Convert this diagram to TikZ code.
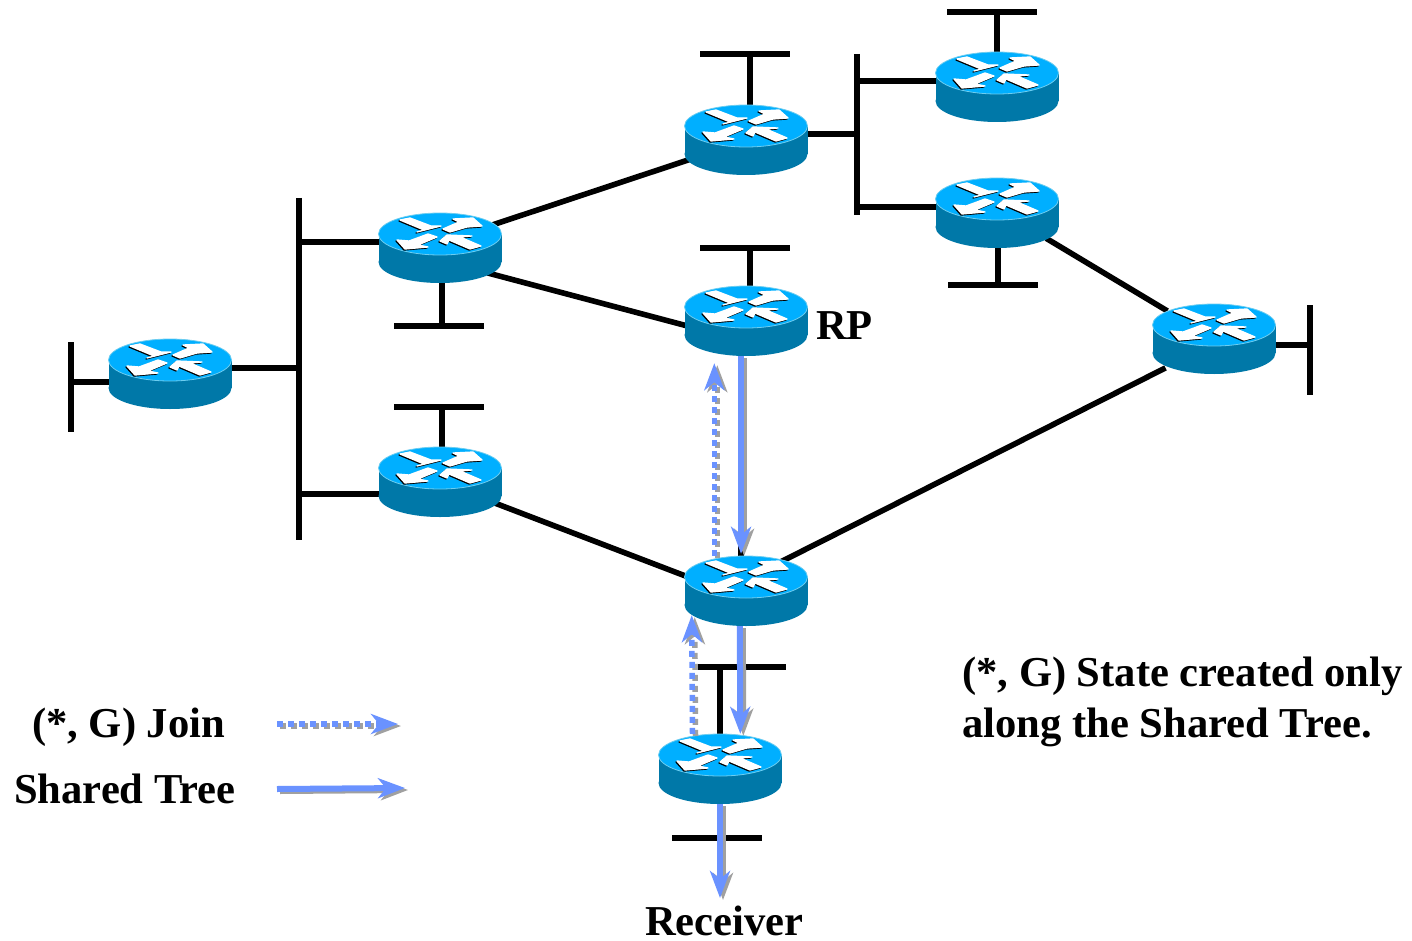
\documentclass[tikz,border=0pt]{standalone}
\usepackage{fontspec}
\setmainfont{Liberation Serif}
\usetikzlibrary{arrows.meta}
\definecolor{routertop}{HTML}{00AFFF}
\definecolor{routerside}{HTML}{0078A8}
\definecolor{routeredge}{HTML}{6CCDF0}
\definecolor{treeblue}{HTML}{6A92FF}
\definecolor{treegray}{HTML}{A0A0A0}
\tikzset{
    routerbox/.style={minimum width=122pt, minimum height=70pt, inner sep=0pt},
    lan/.style={black, line width=5.6pt},
    link/.style={lan, shorten <=-14pt, shorten >=-14pt},
    treetip/.style={-{Stealth[length=27pt,width=20pt,inset=8pt]}, line width=6pt},
    tree/.style={treetip, treeblue},
    treeback/.style={treetip, treegray, transform canvas={shift={(3pt,-2pt)}}},
    dots/.style={line width=5.5pt, dash pattern=on 6pt off 5pt},
    label/.style={anchor=base west, inner sep=0pt, font=\bfseries\fontsize{42.6}{50}\selectfont},
    router/.pic={
        \fill[routerside] (-61.5,-14) rectangle (61.5,14);
        \fill[routerside] (0,14) ellipse [x radius=61.5, y radius=21];
        \draw[routeredge, line width=0.8pt, fill=routertop] (0,-14) ellipse [x radius=61.5, y radius=21];
        \begin{scope}[shift={(0,-14)}]
            \foreach \s/\c in {1/black,0/white} {
                \filldraw[\c, line width=1.3pt, line join=round, shift={(-\s,\s)}] (-40,-14) -- (-30,-16) -- (-9,-8) -- (1,-8) -- (-23,-2) -- (-16,-4) -- cycle;
                \filldraw[\c, line width=1.3pt, line join=round, shift={(-\s,\s)}] (3,-5) -- (19,-12) -- (13,-15) -- (33,-16) -- (42,-8) -- (27,-7) -- (10,-2) -- cycle;
                \filldraw[\c, line width=1.3pt, line join=round, shift={(-\s,\s)}] (-43,6) -- (-31,7) -- (-12,0) -- (-3,3) -- (-22,11) -- (-12,13) -- (-35,15) -- cycle;
                \filldraw[\c, line width=1.3pt, line join=round, shift={(-\s,\s)}] (0,7) -- (7,1) -- (32,2) -- (20,3) -- (41,12) -- (30,15) -- (9,6) -- (7,10) -- cycle;
            }
        \end{scope}
    }
}
\begin{document}
\begin{tikzpicture}[x=1pt, y=-1pt]
    \useasboundingbox (0,0) rectangle (1412,941);

    % routers, centre of the body
    \foreach \n/\x/\y in {ra/170/374, rb/440/248, rc/440/482, rd/746/140, rp/746/321,
                          re/746/591, rf/720/769, rg/997/87, rh/997/213, ri/1214/339}
        \node[routerbox] (\n) at (\x,\y) {};

    % links between routers
    \draw[link] (rb.23) -- (rd.199);
    \draw[link] (rb.-25) -- (rp.184);
    \draw[link] (rc.-21) -- (re.166);
    \draw[link] (re.37) -- (ri.210);
    \draw[link] (rh.-28) -- (ri.149);
    \draw[lan] (rp.-98) -- (re.98);

    % left bus
    \coordinate (busl) at (299,198);
    \coordinate (busle) at (299,540);
    \draw[lan] (busl) -- (busle);
    \coordinate (ja) at (299,368);
    \coordinate (jb) at (299,242);
    \coordinate (jc) at (299,494);
    \draw[lan] (ja) -- (ja -| ra);
    \draw[lan] (jb) -- (jb -| rb);
    \draw[lan] (jc) -- (jc -| rc);

    % right bus
    \coordinate (busr) at (857,54);
    \coordinate (busre) at (857,215);
    \draw[lan] (busr) -- (busre);
    \coordinate (jd) at (857,134);
    \coordinate (jg) at (857,81);
    \coordinate (jh) at (857,207);
    \draw[lan] (jd) -- (jd -| rd);
    \draw[lan] (jg) -- (jg -| rg);
    \draw[lan] (jh) -- (jh -| rh);

    % stub networks
    \coordinate (tapa) at (71,382);
    \draw[lan] (tapa) ++(0,-40) -- ++(0,90);
    \draw[lan] (tapa) -- (tapa -| ra);
    \coordinate (tapb) at (442,326);
    \draw[lan] (tapb) ++(-48,0) -- ++(90,0);
    \draw[lan] (tapb) -- (tapb |- rb);
    \coordinate (tapc) at (442,407);
    \draw[lan] (tapc) ++(-48,0) -- ++(90,0);
    \draw[lan] (tapc) -- (tapc |- rc);
    \coordinate (tapd) at (750,54);
    \draw[lan] (tapd) ++(-50,0) -- ++(90,0);
    \draw[lan] (tapd) -- (tapd |- rd);
    \coordinate (tapp) at (750,248);
    \draw[lan] (tapp) ++(-50,0) -- ++(90,0);
    \draw[lan] (tapp) -- (tapp |- rp);
    \coordinate (tapg) at (997,12);
    \draw[lan] (tapg) ++(-50,0) -- ++(90,0);
    \draw[lan] (tapg) -- (tapg |- rg);
    \coordinate (taph) at (998,285);
    \draw[lan] (taph) ++(-50,0) -- ++(90,0);
    \draw[lan] (taph) -- (taph |- rh);
    \coordinate (tapi) at (1310,345);
    \draw[lan] (tapi) ++(0,-40) -- ++(0,90);
    \draw[lan] (tapi) -- (tapi -| ri);
    \coordinate (tape) at (720,667);
    \draw[lan] (tape) ++(-23,0) -- ++(89,0);
    \draw[lan] (tape) -- (tape |- rf);
    \coordinate (tapf) at (720,838);
    \draw[lan] (tapf) ++(-48,0) -- ++(90,0);

    \foreach \n in {ra,rb,rc,rd,rp,re,rf,rg,rh,ri}
        \pic at (\n) {router};

    % shared tree and joins
    \coordinate (rcv) at (720,898);
    \coordinate (legja) at (277,724);
    \coordinate (legjb) at (398,724);
    \coordinate (legta) at (277,789);
    \coordinate (legtb) at (405,788);
    \foreach \st in {treeback,tree} {
        \draw[\st, shorten >=2pt] (rp.-98) -- (re.98);
        \draw[\st] (re.-100) -- (rf.60);
        \draw[\st] (rf.south) -- (rcv);
        \draw[\st] (legta) -- (legtb);
        \draw[\st, dots, shorten >=7pt] (re.132) -- (rp.228);
        \draw[\st, dots, shorten >=-11pt] (rf.128) -- (re.213);
        \draw[\st, dots] (legja) -- (legjb);
    }

    \node[label] (rplabel) at (816,339) {RP};
    \node[label] (rcvlabel) at (645,935) {Receiver};
    \node[label] (joinlabel) at (32,737) {(*, G) Join};
    \node[label] (treelabel) at (14,803) {Shared Tree};
    \node[label] (statea) at (962,686) {(*, G) State created only};
    \node[label] (stateb) at (962,737) {along the Shared Tree.};
\end{tikzpicture}
\end{document}
